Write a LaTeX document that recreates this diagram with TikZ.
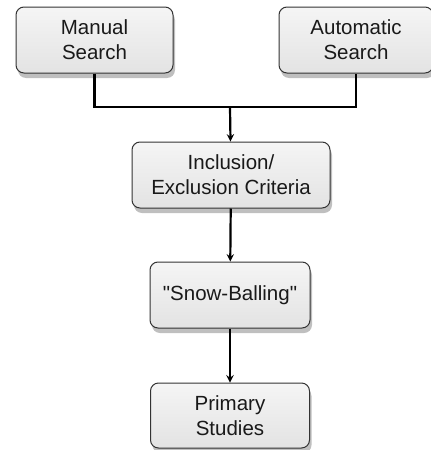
\documentclass[tikz,border=0pt]{standalone}
\usepackage{fontspec}
\setmainfont{Liberation Sans}
\usepackage{xcolor}
\usepackage{tikz}
\usetikzlibrary{shadows}

\begin{document}
\begin{tikzpicture}[
    x=1pt, y=-1pt,
    stage/.style={
        rectangle,
        rounded corners=8pt,
        draw=black!80,
        line width=1pt,
        top color=gray!8,
        bottom color=gray!22,
        minimum height=66pt,
        text=black!90,
        inner sep=0pt,
        font=\fontsize{20.5}{25}\selectfont,
        drop shadow={shadow xshift=2pt, shadow yshift=-5pt, opacity=0.25, fill=black}
    },
    arrow/.style={
        ->,
        line width=2.2pt,
        >=stealth
    },
    line/.style={
        line width=2.2pt
    }
]
\useasboundingbox (0,0) rectangle (431,450);

% Components
\node[stage, minimum width=157pt] (manual) at (94.5, 40) {\parbox{150pt}{\centering Manual\\ Search}};
\node[stage, minimum width=154pt] (automatic) at (356, 40) {\parbox{150pt}{\centering Automatic\\ Search}};
\node[stage, minimum width=198pt] (criteria) at (231, 175) {\parbox{190pt}{\centering Inclusion/\\ Exclusion Criteria}};
\node[stage, minimum width=160pt] (snowball) at (230, 295) {\parbox{155pt}{\centering \textquotedbl Snow-Balling\textquotedbl}};
\node[stage, minimum width=159pt, minimum height=65pt] (primary) at (230, 415.5) {\parbox{155pt}{\centering Primary\\ Studies}};

% Arrows
\coordinate (join) at (230, 107);
\draw[line] (manual.south) |- (join) -| (automatic.south);
\draw[arrow] (join) -- (criteria);
\draw[arrow] (criteria) -- (snowball);
\draw[arrow] (snowball) -- (primary);

\end{tikzpicture}
\end{document}
